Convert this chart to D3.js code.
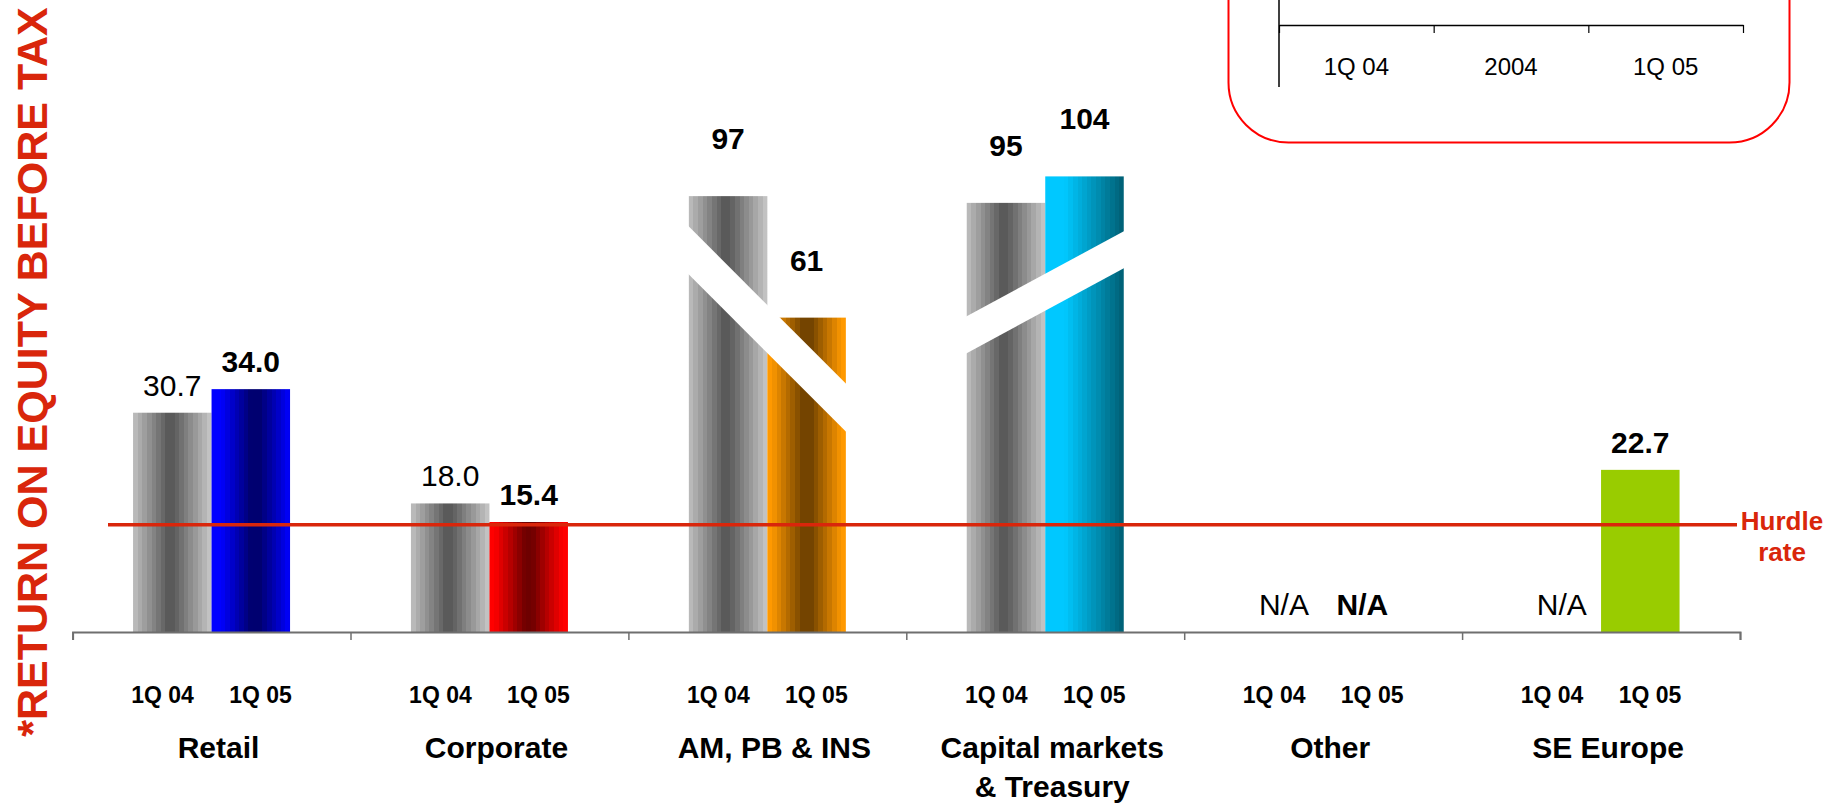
<!DOCTYPE html>
<html>
<head>
<meta charset="utf-8">
<script src="https://cdn.jsdelivr.net/npm/d3@7/dist/d3.min.js"></script>
<style>
  html, body { margin: 0; padding: 0; background: #ffffff; }
  svg { display: block; font-family: "Liberation Sans", Arial, sans-serif; }
</style>
</head>
<body>
<svg id="chart" width="1838" height="807"></svg>
<script>
// Return on equity before tax by business segment
const categories = ["Retail", "Corporate", "AM, PB & INS", "Capital markets & Treasury", "Other", "SE Europe"];
const categoryLines = [["Retail"], ["Corporate"], ["AM, PB & INS"], ["Capital markets", "& Treasury"], ["Other"], ["SE Europe"]];
const periods = ["1Q 04", "1Q 05"];
const roe1Q04 = [30.7, 18.0, 97, 95, null, null];
const roe1Q05 = [34.0, 15.4, 61, 104, null, 22.7];
const hurdleRate = 15;
const insetPeriods = ["1Q 04", "2004", "1Q 05"];

const W = 1838, H = 807;
const svg = d3.select("#chart");
const defs = svg.append("defs");
svg.append("rect").attr("width", W).attr("height", H).attr("fill", "#ffffff");

const RED = "#d9260b";

// ---- scales ----
const axisLeft = 72.6, axisRight = 1740, baseY = 632;
const x = d3.scaleBand().domain(categories).range([axisLeft, axisRight]).paddingInner(0).paddingOuter(0);
const xBar = d3.scaleBand().domain(periods).range([-78.5, 78.5]);
const boundary = d3.scaleLinear().domain([0, categories.length]).range([axisLeft, axisRight]);
// broken value axis: the upper range is compressed
const y = d3.scaleLinear().domain([0, 35, 60, 100, 110]).range([baseY, 382, 321, 186, 162]);

// ---- stepped bar gradients ----
function stepped(id, colorAt, n) {
  const g = defs.append("linearGradient").attr("id", id)
    .attr("x1", "0%").attr("x2", "100%").attr("y1", "0%").attr("y2", "0%");
  for (let i = 0; i < n; i++) {
    const c = colorAt((i + 0.5) / n);
    g.append("stop").attr("offset", (i / n * 100) + "%").attr("stop-color", c);
    g.append("stop").attr("offset", ((i + 1) / n * 100) + "%").attr("stop-color", c);
  }
}
function peak(center, half, flat) {
  return t => Math.max(0, Math.min(1, (1 - Math.abs(t - center) / half) * flat));
}
const grayK = peak(0.48, 0.5, 1.08);
stepped("g-gray", t => d3.interpolateRgb("#c4c4c4", "#5a5a5a")(grayK(t)), 17);
const blueK = peak(0.56, 0.44, 1.15);
stepped("g-blue", t => d3.interpolateRgb("#0000ff", "#000070")(blueK(t)), 17);
const redK = peak(0.5, 0.44, 1.1);
stepped("g-red", t => d3.interpolateRgb("#ff0000", "#6e0000")(redK(t)), 17);
const orangeK = peak(0.5, 0.45, 1.15);
stepped("g-orange", t => d3.interpolateRgb("#ff9900", "#744400")(orangeK(t)), 17);
stepped("g-cyan", t => d3.interpolateRgb("#00c8ff", "#005e72")(Math.max(0, (t - 0.25) / 0.75)), 17);

const fill1Q05 = ["url(#g-blue)", "url(#g-red)", "url(#g-orange)", "url(#g-cyan)", "#99cc00", "#99cc00"];

// ---- bars ----
const bars = [];
categories.forEach((c, i) => {
  bars.push({ cat: c, i, period: periods[0], value: roe1Q04[i], fill: "url(#g-gray)" });
  bars.push({ cat: c, i, period: periods[1], value: roe1Q05[i], fill: fill1Q05[i] });
});
const groupCenter = c => x(c) + x.bandwidth() / 2;
const barX = d => groupCenter(d.cat) + xBar(d.period);

svg.append("g").selectAll("rect")
  .data(bars.filter(d => d.value != null))
  .join("rect")
  .attr("x", barX)
  .attr("width", xBar.bandwidth())
  .attr("y", d => y(d.value))
  .attr("height", d => baseY - y(d.value))
  .attr("fill", d => d.fill);

// ---- break marks across the two compressed groups ----
const breaks = [
  { cat: "AM, PB & INS", cy: y(60) + 8, slope: 1, thick: 48 },
  { cat: "Capital markets & Treasury", cy: y(70) + 5, slope: -0.541, thick: 37 }
];
svg.append("g").selectAll("polygon")
  .data(breaks)
  .join("polygon")
  .attr("fill", "#ffffff")
  .attr("points", b => {
    const cx = groupCenter(b.cat);
    const x0 = cx + xBar.range()[0] - 1, x1 = cx + xBar.range()[1] + 1;
    const e = xx => b.cy + b.slope * (xx - cx);
    return [[x0, e(x0) - b.thick / 2], [x1, e(x1) - b.thick / 2], [x1, e(x1) + b.thick / 2], [x0, e(x0) + b.thick / 2]]
      .map(p => p.join(",")).join(" ");
  });

// ---- hurdle rate ----
svg.append("line")
  .attr("x1", 108).attr("x2", 1737)
  .attr("y1", y(hurdleRate)).attr("y2", y(hurdleRate))
  .attr("stroke", RED).attr("stroke-width", 3.5);
svg.append("text")
  .attr("x", 1782).attr("y", y(hurdleRate) + 5)
  .attr("text-anchor", "middle").attr("font-size", 26).attr("font-weight", "bold").attr("fill", RED)
  .selectAll("tspan").data(["Hurdle", "rate"]).join("tspan")
  .attr("x", 1782).attr("dy", (d, i) => i ? 31 : 0).text(d => d);

// ---- category axis ----
const axisG = svg.append("g").attr("transform", `translate(0,${baseY})`)
  .call(d3.axisBottom(boundary).ticks(categories.length).tickSize(8).tickFormat(""));
axisG.select(".domain").attr("stroke", "#6f6f6f").attr("stroke-width", 2);
axisG.selectAll(".tick line").attr("stroke", "#6f6f6f").attr("stroke-width", 1.5);

// ---- value labels ----
const fmt = v => (v >= 35 ? d3.format("d")(v) : d3.format(".1f")(v));
svg.append("g").selectAll("text")
  .data(bars)
  .join("text")
  .attr("x", d => barX(d) + xBar.bandwidth() / 2)
  .attr("y", d => d.value == null ? 615 : (d.value > 35 ? y(d.value) - 47 : y(d.value) - 17))
  .attr("text-anchor", "middle")
  .attr("font-size", 30)
  .attr("font-weight", d => (d.period === periods[1] || d.value > 35) ? "bold" : "normal")
  .attr("fill", "#000000")
  .text(d => d.value == null ? "N/A" : fmt(d.value));

// ---- period labels under each group ----
const subOffset = d3.scaleOrdinal().domain(periods).range([-49, 49]);
svg.append("g").selectAll("text")
  .data(categories.flatMap(c => periods.map(p => ({ c, p }))))
  .join("text")
  .attr("x", d => groupCenter(d.c) + subOffset(d.p))
  .attr("y", 703)
  .attr("text-anchor", "middle").attr("font-size", 23).attr("font-weight", "bold")
  .text(d => d.p);

// ---- category names ----
svg.append("g").selectAll("text")
  .data(categories)
  .join("text")
  .attr("x", c => groupCenter(c) + 7)
  .attr("y", 758)
  .attr("text-anchor", "middle").attr("font-size", 30).attr("font-weight", "bold")
  .each(function (c, i) {
    d3.select(this).selectAll("tspan").data(categoryLines[i]).join("tspan")
      .attr("x", groupCenter(c) + 7).attr("dy", (d, k) => k ? 39 : 0).text(d => d);
  });

// ---- vertical title ----
svg.append("text")
  .attr("transform", "translate(47,372) rotate(-90)")
  .attr("text-anchor", "middle").attr("font-size", 43).attr("font-weight", "bold").attr("fill", RED)
  .text("*RETURN ON EQUITY BEFORE TAX");

// ---- inset panel (upper right) ----
const inset = svg.append("g");
inset.append("rect")
  .attr("x", 1228.5).attr("y", -120).attr("width", 561).attr("height", 262.5)
  .attr("rx", 60).attr("ry", 60)
  .attr("fill", "none").attr("stroke", "#ff0000").attr("stroke-width", 2);
const xi = d3.scaleBand().domain(insetPeriods).range([1279, 1743]);
const xiEdge = d3.scaleLinear().domain([0, insetPeriods.length]).range([1279, 1743]);
const insetAxis = inset.append("g").attr("transform", "translate(0,25)")
  .call(d3.axisBottom(xiEdge).ticks(insetPeriods.length).tickSize(8).tickFormat("").tickSizeOuter(0));
insetAxis.select(".domain").attr("stroke", "#000000").attr("stroke-width", 1.5);
insetAxis.selectAll(".tick line").attr("stroke", "#000000").attr("stroke-width", 1.2);
inset.append("line").attr("x1", 1279).attr("x2", 1279).attr("y1", -120).attr("y2", 87)
  .attr("stroke", "#000000").attr("stroke-width", 1.5);
inset.append("g").selectAll("text")
  .data(insetPeriods)
  .join("text")
  .attr("x", d => xi(d) + xi.bandwidth() / 2)
  .attr("y", 75)
  .attr("text-anchor", "middle").attr("font-size", 24).attr("fill", "#000000")
  .text(d => d);
</script>
</body>
</html>
